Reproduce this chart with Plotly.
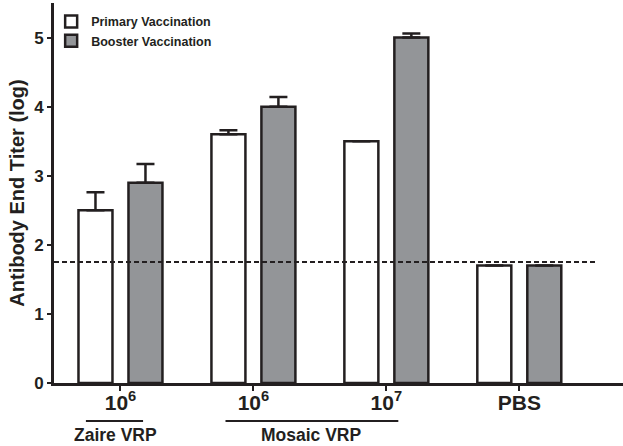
import plotly.graph_objects as go

# ---- data ----
groups = ["Zaire 10^6", "Mosaic 10^6", "Mosaic 10^7", "PBS"]
tick_labels = ["<b>10<sup>6</sup></b>", "<b>10<sup>6</sup></b>", "<b>10<sup>7</sup></b>", "<b>PBS</b>"]
primary = [2.5, 3.6, 3.5, 1.7]
primary_err = [0.26, 0.06, None, None]
booster = [2.9, 4.0, 5.0, 1.7]
booster_err = [0.27, 0.14, 0.06, None]
threshold = 1.75
group_labels = ["Zaire VRP", "Mosaic VRP"]

FONT = "Liberation Sans, Arial, sans-serif"
DARK = "#231f20"
GRAY = "#939598"

x = list(range(len(groups)))


def minus(errs):
    return [0 if e is not None else None for e in errs]


fig = go.Figure()
fig.add_trace(go.Bar(
    x=x, y=primary, name="<b>Primary Vaccination</b>",
    marker=dict(color="white", line=dict(color=DARK, width=2.5)),
    error_y=dict(type="data", array=primary_err, arrayminus=minus(primary_err), symmetric=False,
                 color=DARK, thickness=2.5, width=9),
))
fig.add_trace(go.Bar(
    x=x, y=booster, name="<b>Booster Vaccination</b>",
    marker=dict(color=GRAY, line=dict(color=DARK, width=2.5)),
    error_y=dict(type="data", array=booster_err, arrayminus=minus(booster_err), symmetric=False,
                 color=DARK, thickness=2.5, width=9),
))

# threshold dashed line
fig.add_shape(type="line", xref="x", yref="y", x0=-0.5, x1=3.59, y0=threshold, y1=threshold,
              line=dict(color=DARK, width=2, dash="5px,3px"))

# group underline labels
fig.add_shape(type="line", xref="x", yref="paper", x0=-0.26, x1=0.17, y0=-0.1, y1=-0.1,
              line=dict(color=DARK, width=2))
fig.add_shape(type="line", xref="x", yref="paper", x0=0.79, x1=2.09, y0=-0.1, y1=-0.1,
              line=dict(color=DARK, width=2))
fig.add_annotation(x=-0.04, y=-0.137, xref="x", yref="paper", text="<b>" + group_labels[0] + "</b>",
                   showarrow=False, yanchor="middle", font=dict(family=FONT, size=17.5, color=DARK))
fig.add_annotation(x=1.44, y=-0.137, xref="x", yref="paper", text="<b>" + group_labels[1] + "</b>",
                   showarrow=False, yanchor="middle", font=dict(family=FONT, size=17.5, color=DARK))

fig.update_layout(
    width=623, height=446,
    margin=dict(l=54, r=0, t=3, b=63),
    plot_bgcolor="white", paper_bgcolor="white",
    barmode="group", bargap=0.248, bargroupgap=0.32,
    font=dict(family=FONT, color=DARK),
    showlegend=True,
    legend=dict(x=-0.005, y=0.99, xanchor="left", yanchor="top",
                font=dict(family=FONT, size=12.5, color=DARK),
                bgcolor="rgba(0,0,0,0)", tracegroupgap=0, itemwidth=30),
)
fig.update_xaxes(
    range=[-0.5, 3.78], tickvals=x, ticktext=tick_labels,
    showline=True, linecolor=DARK, linewidth=3,
    ticks="outside", ticklen=5, tickwidth=2, tickcolor=DARK,
    tickfont=dict(family=FONT, size=21, color=DARK),
    ticklabelstandoff=-6,
    showgrid=False, zeroline=False,
)
fig.update_yaxes(
    range=[0, 5.5], tickvals=[0, 1, 2, 3, 4, 5],
    ticktext=["<b>%d</b>" % v for v in [0, 1, 2, 3, 4, 5]],
    showline=True, linecolor=DARK, linewidth=3,
    ticks="outside", ticklen=4, tickwidth=2, tickcolor=DARK,
    tickfont=dict(family=FONT, size=17, color=DARK),
    title=dict(text="<b>Antibody End Titer (log)</b>", font=dict(family=FONT, size=20, color=DARK), standoff=5),
    showgrid=False, zeroline=False,
)

fig.write_html("out.html", config={"displayModeBar": False},
               post_script="document.body.style.margin='0';")
